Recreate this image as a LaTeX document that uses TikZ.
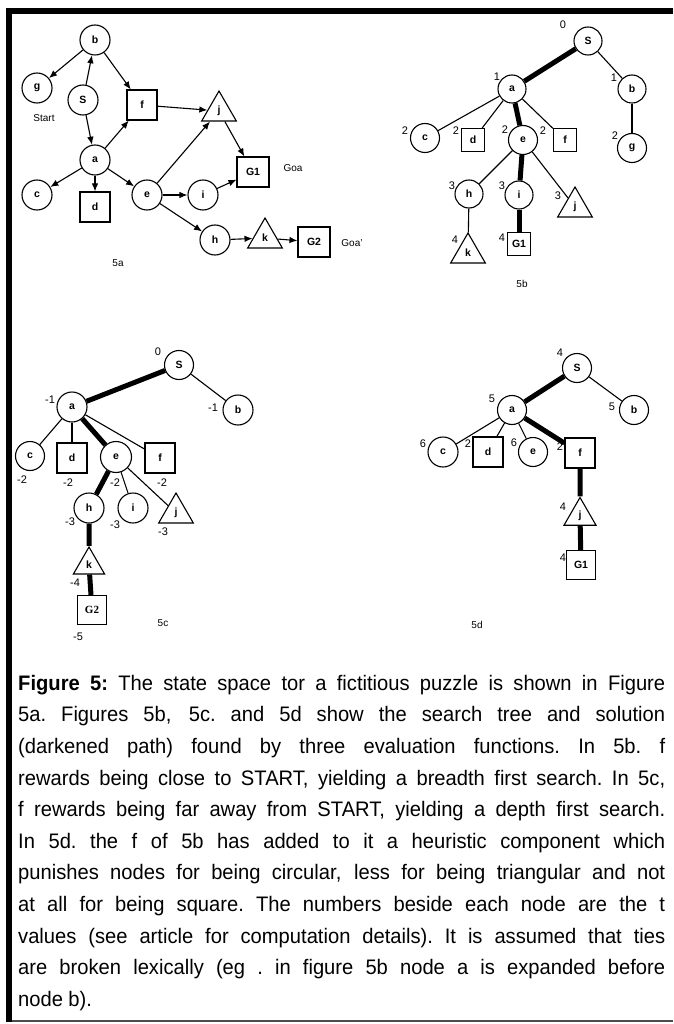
\documentclass[tikz,border=0pt]{standalone}
\usepackage{fontspec}
\setmainfont{Liberation Sans}
\newfontfamily\capfont[FakeStretch=0.96]{Liberation Sans}
\newfontfamily\gserif{Liberation Serif}
\usetikzlibrary{shapes.geometric,arrows.meta}
\newcommand\mynodefont{\bfseries\fontsize{10.5}{10.5}\selectfont}
\newcommand\mynumfont{\fontsize{11}{11}\selectfont}
\newcommand\mycapline[1]{\leavevmode\hbox to 647pt{#1}}
\begin{document}
\begin{tikzpicture}[x=1pt,y=-1pt,
  every node/.style={inner sep=0pt},
  nd/.style={draw,line width=1.1pt,font=\mynodefont},
  circ/.style={nd,circle,minimum size=#1}, circ/.default=30,
  sq/.style={nd,rectangle,minimum size=#1}, sq/.default=30,
  tri/.style={nd,regular polygon,regular polygon sides=3,minimum size=#1}, tri/.default=40,
  num/.style={font=\mynumfont},
  lbl/.style={font=\fontsize{10}{10}\selectfont},
  lightedge/.style={line width=1.1pt},
  heavyedge/.style={line width=5pt},
  arr/.style={line width=1.1pt,-{Latex[length=8pt,width=6.5pt]}},
  framebar/.style={line width=6pt}]
\useasboundingbox (0,0) rectangle (673,1024);
\fill[white] (0,0) rectangle (673,1024);
% frame
\draw[framebar] (9,8) -- (9,1022);
\draw[framebar] (6,11) -- (673,11);
\draw[line width=1.3pt,black!70] (12,1021) -- (673,1021);

% ---------------- 5a ----------------
\node[circ] (ab) at (95,40) {b};
\node[circ] (ag) at (37,88) {g};
\node[circ] (aS) at (83,100) {S};
\node[sq] (af) at (142,105) {f};
\node[tri] (aj) at (219,111) {j};
\node[circ] (aa) at (95,160) {a};
\node[circ] (ac) at (37,195) {c};
\node[sq] (ad) at (95,207) {d};
\node[circ] (ae) at (147,195) {e};
\node[circ] (ai) at (203,195) {i};
\node[sq,minimum width=32] (aG1) at (253,172) {G1};
\node[circ] (ah) at (215,240) {h};
\node[tri] (ak) at (265,238) {k};
\node[sq,minimum width=32] (aG2) at (314,242) {G2};
\node[lbl] (astart) at (44,118) {Start};
\node[lbl] (agoa1) at (293,168) {Goa};
\node[lbl] (agoa2) at (352,243) {Goa'};
\node[lbl] (acap) at (118,263) {5a};
\draw[arr] (ab) -- (ag);
\draw[arr] (aS) -- (ab);
\draw[arr] (ab) -- (af);
\draw[arr] (aS) -- (aa);
\draw[arr] (aa) -- (af);
\draw[arr] (af) -- (aj);
\draw[arr] (ae) -- (aj);
\draw[arr] (aj) -- (aG1);
\draw[arr] (aa) -- (ac);
\draw[arr] (aa) -- (ad);
\draw[arr] (aa) -- (ae);
\draw[arr] (ae) -- (ai);
\draw[arr] (ai) -- (aG1);
\draw[arr] (ae) -- (ah);
\draw[arr] (ah) -- (ak);
\draw[arr] (ak) -- (aG2);

% ---------------- 5b ----------------
\node[circ=28] (bS) at (588,41) {S};
\node[circ=28] (ba) at (512,89) {a};
\node[circ=28] (bb) at (632,89) {b};
\node[circ=29] (bc) at (425,138) {c};
\node[sq=23] (bd) at (473,140) {d};
\node[circ=29] (be) at (523,140) {e};
\node[sq=23] (bf) at (565,140) {f};
\node[circ=29] (bg) at (632,148) {g};
\node[circ=28] (bh) at (469,194) {h};
\node[circ=28] (bi) at (519,195) {i};
\node[tri=40] (bj) at (575,207) {j};
\node[tri=40] (bk) at (468,253) {k};
\node[sq=23] (bG1) at (519,244) {G1};
\node[num] (bSn) at (563,25) {0};
\node[num] (ban) at (497,77) {1};
\node[num] (bbn) at (614,78) {1};
\node[num] (bcn) at (405,131) {2};
\node[num] (bdn) at (456,131) {2};
\node[num] (ben) at (505,130) {2};
\node[num] (bfn) at (543,131) {2};
\node[num] (bgn) at (615,136) {2};
\node[num] (bhn) at (452,186) {3};
\node[num] (bin) at (502,186) {3};
\node[num] (bjn) at (558,196) {3};
\node[num] (bkn) at (455,240) {4};
\node[num] (bG1n) at (502,238) {4};
\node[lbl] (bcap) at (522,284) {5b};
\draw[heavyedge] (bS) -- (ba);
\draw[lightedge] (bS) -- (bb);
\draw[lightedge] (ba) -- (bc);
\draw[lightedge] (ba) -- (bd);
\draw[heavyedge] (ba) -- (be);
\draw[lightedge] (ba) -- (bf);
\draw[lightedge] (bb) -- (bg);
\draw[lightedge] (be) -- (bh);
\draw[heavyedge] (be) -- (bi);
\draw[lightedge] (be) -- (bj);
\draw[lightedge] (bh) -- (bk);
\draw[heavyedge] (bi) -- (bG1);

% ---------------- 5c ----------------
\node[circ=29] (cS) at (179,365) {S};
\node[circ=30] (ca) at (72,407) {a};
\node[circ=30] (cb) at (238,410) {b};
\node[circ=29] (cc) at (30,456) {c};
\node[sq=30] (cd) at (72,458) {d};
\node[circ=31] (ce) at (116,457) {e};
\node[sq=30] (cf) at (160,458) {f};
\node[circ=30] (ch) at (89,508) {h};
\node[circ=30] (ci) at (133,508) {i};
\node[tri=40] (cj) at (176,513) {j};
\node[tri=36] (ck) at (89,565) {k};
\node[sq=29,font=\gserif\bfseries\fontsize{11}{11}\selectfont] (cG2) at (92,610) {G2};
\node[num] (cSn) at (158,352) {0};
\node[num] (can) at (50,400) {-1};
\node[num] (cbn) at (213,408) {-1};
\node[num] (ccn) at (22,480) {-2};
\node[num] (cdn) at (68,483) {-2};
\node[num] (cen) at (115,483) {-2};
\node[num] (cfn) at (162,483) {-2};
\node[num] (chn) at (70,522) {-3};
\node[num] (cin) at (115,525) {-3};
\node[num] (cjn) at (163,532) {-3};
\node[num] (ckn) at (75,583) {-4};
\node[num] (cG2n) at (78,637) {-5};
\node[lbl] (ccap) at (163,623) {5c};
\draw[heavyedge] (cS) -- (ca);
\draw[lightedge] (cS) -- (cb);
\draw[lightedge] (ca) -- (cc);
\draw[lightedge] (ca) -- (cd);
\draw[heavyedge] (ca) -- (ce);
\draw[lightedge] (ca) -- (cf);
\draw[heavyedge] (ce) -- (ch);
\draw[lightedge] (ce) -- (ci);
\draw[lightedge] (ce) -- (cj);
\draw[heavyedge] (ch) -- (ck);
\draw[heavyedge] (ck) -- (cG2);

% ---------------- 5d ----------------
\node[circ=29] (dS) at (577,368) {S};
\node[circ=29] (da) at (512,410) {a};
\node[circ=29] (db) at (634,410) {b};
\node[circ=30] (dc) at (443,452) {c};
\node[sq=30] (dd) at (488,452) {d};
\node[circ=29] (de) at (533,452) {e};
\node[sq=30] (df) at (580,453) {f};
\node[tri=37] (dj) at (580,516) {j};
\node[sq=29] (dG1) at (581,565) {G1};
\node[num] (dSn) at (560,353) {4};
\node[num] (dan) at (492,399) {5};
\node[num] (dbn) at (612,407) {5};
\node[num] (dcn) at (423,444) {6};
\node[num] (ddn) at (468,444) {2};
\node[num] (den) at (514,443) {6};
\node[num] (dfn) at (560,447) {2};
\node[num] (djn) at (563,507) {4};
\node[num] (dG1n) at (563,558) {4};
\node[lbl] (dcap) at (477,625) {5d};
\draw[heavyedge] (dS) -- (da);
\draw[lightedge] (dS) -- (db);
\draw[lightedge] (da) -- (dc);
\draw[lightedge] (da) -- (dd);
\draw[lightedge] (da) -- (de);
\draw[heavyedge] (da) -- (df);
\draw[heavyedge] (df) -- (dj);
\draw[heavyedge] (dj) -- (dG1);

% ---------------- caption ----------------
\node[anchor=north west, text width=647pt, align=left,
      font=\capfont\fontsize{21}{31.6}\selectfont] (caption) at (18,674) {%
\spaceskip=5.4pt plus 1fil minus 1.5pt\relax\xspaceskip=\spaceskip
\noindent\rule{0pt}{16pt}\mycapline{\textbf{Figure 5:} The state space tor a fictitious puzzle is shown in Figure}\\
\mycapline{5a. Figures 5b, 5c. and 5d show the search tree and solution}\\
\mycapline{(darkened path) found by three evaluation functions. In 5b. f}\\
\mycapline{rewards being close to START, yielding a breadth first search. In 5c,}\\
\mycapline{f rewards being far away from START, yielding a depth first search.}\\
\mycapline{In 5d. the f of 5b has added to it a heuristic component which}\\
\mycapline{punishes nodes for being circular, less for being triangular and not}\\
\mycapline{at all for being square. The numbers beside each node are the t}\\
\mycapline{values (see article for computation details). It is assumed that ties}\\
\mycapline{are broken lexically (eg . in figure 5b node a is expanded before}\\
\leavevmode\hbox{\spaceskip=5.4pt\relax node b).}};
\end{tikzpicture}
\end{document}
